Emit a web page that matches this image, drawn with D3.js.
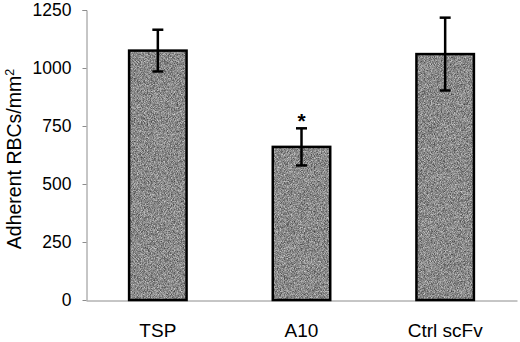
<!DOCTYPE html>
<html>
<head>
<meta charset="utf-8">
<script src="https://cdn.jsdelivr.net/npm/d3@7"></script>
<style>
  body { margin: 0; background: #fff; }
  svg { display: block; font-family: "Liberation Sans", Arial, sans-serif; }
</style>
</head>
<body>
<div id="chart"></div>
<script>
// values
let groups = ["TSP", "A10", "Ctrl scFv"];
let means = [1075, 660, 1060];
let errs = [90, 80, 157];
let marks = ["", "*", ""];
let yTicks = [0, 250, 500, 750, 1000, 1250];

let w = 520, h = 342;

let svg = d3.select("#chart")
    .append("svg")
    .attr("width", w)
    .attr("height", h)
;

// grainy grey fill like the scanned original
let defs = svg.append("defs");
let grain = defs.append("filter").attr("id", "grain")
    .attr("x", 0).attr("y", 0).attr("width", 1).attr("height", 1)
    .attr("color-interpolation-filters", "sRGB");
grain.append("feTurbulence")
    .attr("type", "fractalNoise")
    .attr("baseFrequency", 1.3)
    .attr("numOctaves", 1)
    .attr("seed", 3)
    .attr("result", "n");
grain.append("feColorMatrix")
    .attr("in", "n")
    .attr("type", "matrix")
    .attr("values", "0.9 0 0 0 0.09  0.9 0 0 0 0.09  0.9 0 0 0 0.09  0 0 0 0 1")
    .attr("result", "g");
grain.append("feComposite")
    .attr("in", "g")
    .attr("in2", "SourceGraphic")
    .attr("operator", "in");

let xScale = d3.scaleBand().domain(groups).range([86, 517])
    .paddingInner(0.6).paddingOuter(0.3);
let yScale = d3.scaleLinear().domain([0, 1250]).range([300, 10]);

// y axis
let yAxis = d3.axisLeft(yScale).tickValues(yTicks).tickFormat(d3.format("d"))
    .tickSize(4).tickPadding(11);
let yAxisGroup = svg.append("g").attr("transform", "translate(86.5,0)").call(yAxis);
yAxisGroup.select(".domain").attr("stroke", "#8c8c8c").attr("d", "M-4,10.5H0.5V300.5");
yAxisGroup.selectAll(".tick line").attr("stroke", "#8c8c8c");
yAxisGroup.selectAll(".tick text")
    .attr("font-size", 17.5)
    .attr("fill", "#000")
    .attr("font-family", "Liberation Sans, Arial, sans-serif");

// x axis (line only, labels below)
let xAxis = d3.axisBottom(xScale).tickSize(0).tickPadding(23);
let xAxisGroup = svg.append("g").attr("transform", "translate(0,300.5)").call(xAxis);
xAxisGroup.select(".domain").attr("stroke", "#8c8c8c");
xAxisGroup.selectAll(".tick text")
    .attr("font-size", 19)
    .attr("fill", "#000")
    .attr("font-family", "Liberation Sans, Arial, sans-serif");

// y label
let yLabel = svg.append("text")
    .attr("transform", "translate(21,159) rotate(-90)")
    .attr("text-anchor", "middle")
    .attr("font-size", 19.5)
    .attr("fill", "#000");
yLabel.append("tspan").text("Adherent RBCs/mm");
yLabel.append("tspan").attr("font-size", 12.5).attr("dy", -7).text("2");

let data = groups.map((g, i) => ({ name: g, mean: means[i], err: errs[i], mark: marks[i] }));

let bars = svg.selectAll(".bar").data(data).enter().append("g").classed("bar", true);

bars.append("rect")
    .attr("x", d => xScale(d.name))
    .attr("y", d => yScale(d.mean))
    .attr("width", xScale.bandwidth())
    .attr("height", d => yScale(0) - yScale(d.mean))
    .attr("fill", "#888")
    .attr("filter", "url(#grain)");

bars.append("rect")
    .attr("x", d => xScale(d.name))
    .attr("y", d => yScale(d.mean))
    .attr("width", xScale.bandwidth())
    .attr("height", d => yScale(0) - yScale(d.mean))
    .attr("fill", "none")
    .attr("stroke", "#000")
    .attr("stroke-width", 2.5);

// error bars
function cx(d) { return xScale(d.name) + xScale.bandwidth() / 2; }
bars.append("line")
    .attr("x1", cx).attr("x2", cx)
    .attr("y1", d => yScale(d.mean + d.err))
    .attr("y2", d => yScale(d.mean - d.err))
    .attr("stroke", "#000").attr("stroke-width", 2.5);
bars.append("line")
    .attr("x1", d => cx(d) - 5.5).attr("x2", d => cx(d) + 5.5)
    .attr("y1", d => yScale(d.mean + d.err))
    .attr("y2", d => yScale(d.mean + d.err))
    .attr("stroke", "#000").attr("stroke-width", 2.5);
bars.append("line")
    .attr("x1", d => cx(d) - 5.5).attr("x2", d => cx(d) + 5.5)
    .attr("y1", d => yScale(d.mean - d.err))
    .attr("y2", d => yScale(d.mean - d.err))
    .attr("stroke", "#000").attr("stroke-width", 2.5);

// significance mark
bars.append("text")
    .attr("x", cx)
    .attr("y", d => yScale(d.mean + d.err) + 0)
    .attr("text-anchor", "middle")
    .attr("font-size", 21)
    .attr("font-weight", "bold")
    .attr("fill", "#000")
    .text(d => d.mark);
</script>
</body>
</html>
